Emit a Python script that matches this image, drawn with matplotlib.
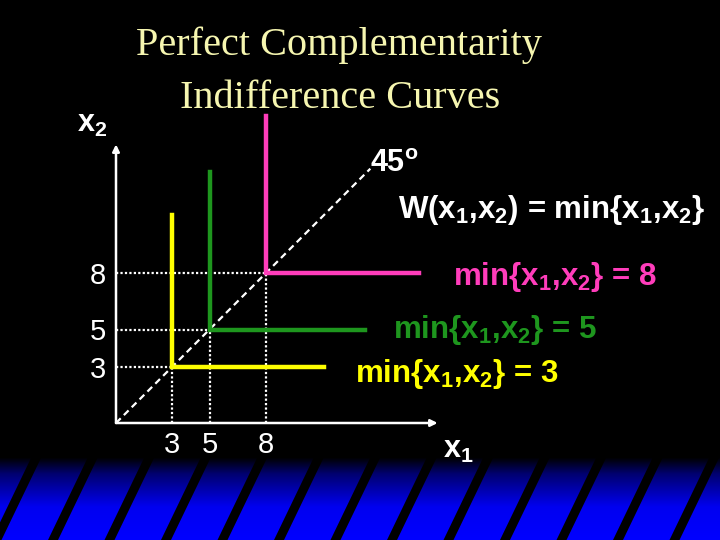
import numpy as np
import matplotlib
matplotlib.use('Agg')
import matplotlib.pyplot as plt
from matplotlib.colors import LinearSegmentedColormap
from matplotlib.patches import Polygon

plt.rcParams['font.family'] = ['Liberation Sans', 'DejaVu Sans']
plt.rcParams['mathtext.default'] = 'regular'

# niveaux d'utilite et extremites des courbes en L
levels = [3, 5, 8]
curve_tops = [11.1, 13.4, 16.4]
curve_ends = [11.1, 13.3, 16.2]
curve_colors = ['#ffff00', '#1e961e', '#ff3dbb']
level_labels = ['min{x$_1$,x$_2$} = 3', 'min{x$_1$,x$_2$} = 5', 'min{x$_1$,x$_2$} = 8']
label_pos = [(12.8, 2.2), (14.8, 4.55), (18.0, 7.38)]
tick_labels = ['3', '5', '8']
diag_end = 13.6
x_axis_end = 17.2
y_axis_end = 14.9

px = 18.7  # pixels par unite
W, H = 720, 540
ox, oy = 116, 117  # origine en pixels (depuis le bas)

fig = plt.figure(figsize=(7.2, 5.4), dpi=100, facecolor='black')

# bande decorative du bas
band_h = 83
bax = fig.add_axes([0, 0, 1, band_h / H])
bax.set_xlim(0, W)
bax.set_ylim(0, band_h)
bax.axis('off')
cmap = LinearSegmentedColormap.from_list('band', [(0, '#0000ff'), (0.4, '#0000f0'), (0.8, '#000070'), (1, '#000000')])
grad = np.linspace(0, 1, 100).reshape(-1, 1)
bax.imshow(grad, cmap=cmap, aspect='auto', extent=[0, W, 0, band_h], origin='lower')
for b in np.arange(-60, W + 60, 56.5):
    sw = 10
    poly = Polygon([(b - sw / 2, 0), (b + sw / 2, 0), (b + 40 + sw / 2, band_h), (b + 40 - sw / 2, band_h)],
                   closed=True, fc='black', ec='none')
    bax.add_patch(poly)

# axes principal en unites du graphique
ax = fig.add_axes([0, 0, 1, 1])
ax.set_xlim(-ox / px, (W - ox) / px)
ax.set_ylim(-oy / px, (H - oy) / px)
ax.axis('off')
ax.patch.set_alpha(0)

# axes avec fleches
ax.annotate('', xy=(x_axis_end, 0), xytext=(0, 0),
            arrowprops=dict(arrowstyle='-|>', color='white', lw=1.8, mutation_scale=10, shrinkA=0, shrinkB=0))
ax.annotate('', xy=(0, y_axis_end), xytext=(0, 0),
            arrowprops=dict(arrowstyle='-|>', color='white', lw=1.8, mutation_scale=10, shrinkA=0, shrinkB=0))

# droite a 45 degres
ax.plot([0, diag_end], [0, diag_end], color='white', lw=1.6, ls=(0, (3, 2)))

# pointilles
for k in levels:
    ax.plot([0, k], [k, k], color='white', lw=1.6, ls=(0, (1, 1)))
    ax.plot([k, k], [0, k], color='white', lw=1.6, ls=(0, (1, 1)))

# courbes d'indifference en L
for k, top, end, c in zip(levels, curve_tops, curve_ends, curve_colors):
    ax.plot([k, k, end], [top, k, k], color=c, lw=3.2, solid_joinstyle='miter')

# etiquettes des niveaux
for (tx, ty), lab, c in zip(label_pos, level_labels, curve_colors):
    ax.text(tx, ty, lab, color=c, fontsize=22.5, fontweight='bold', ha='left', va='baseline')

# graduations
for k, lab in zip(levels, tick_labels):
    ax.text(-0.95, k - 0.15, lab, color='white', fontsize=21, ha='center', va='center')
    ax.text(k, -1.15, lab, color='white', fontsize=21, ha='center', va='center')

ax.text(15.08, 10.96, 'W(x$_1$,x$_2$) = min{x$_1$,x$_2$}', color='white', fontsize=22.5,
        fontweight='bold', ha='left', va='baseline')
ax.text(13.6, 13.4, '45$^o$', color='white', fontsize=22, fontweight='bold', ha='left', va='baseline')
ax.text(17.5, -1.87, 'x$_1$', color='white', fontsize=22, fontweight='bold', ha='left', va='baseline')
ax.text(-2.09, 15.56, 'x$_2$', color='white', fontsize=22, fontweight='bold', ha='left', va='baseline')

# titre
fig.text(339 / W, 1 - 55 / H, 'Perfect Complementarity', color='#f6f6b0', fontsize=29,
         family='Liberation Serif', ha='center', va='baseline')
fig.text(340 / W, 1 - 108 / H, 'Indifference Curves', color='#f6f6b0', fontsize=29,
         family='Liberation Serif', ha='center', va='baseline')

fig.savefig('out.png', dpi=100, facecolor='black')
